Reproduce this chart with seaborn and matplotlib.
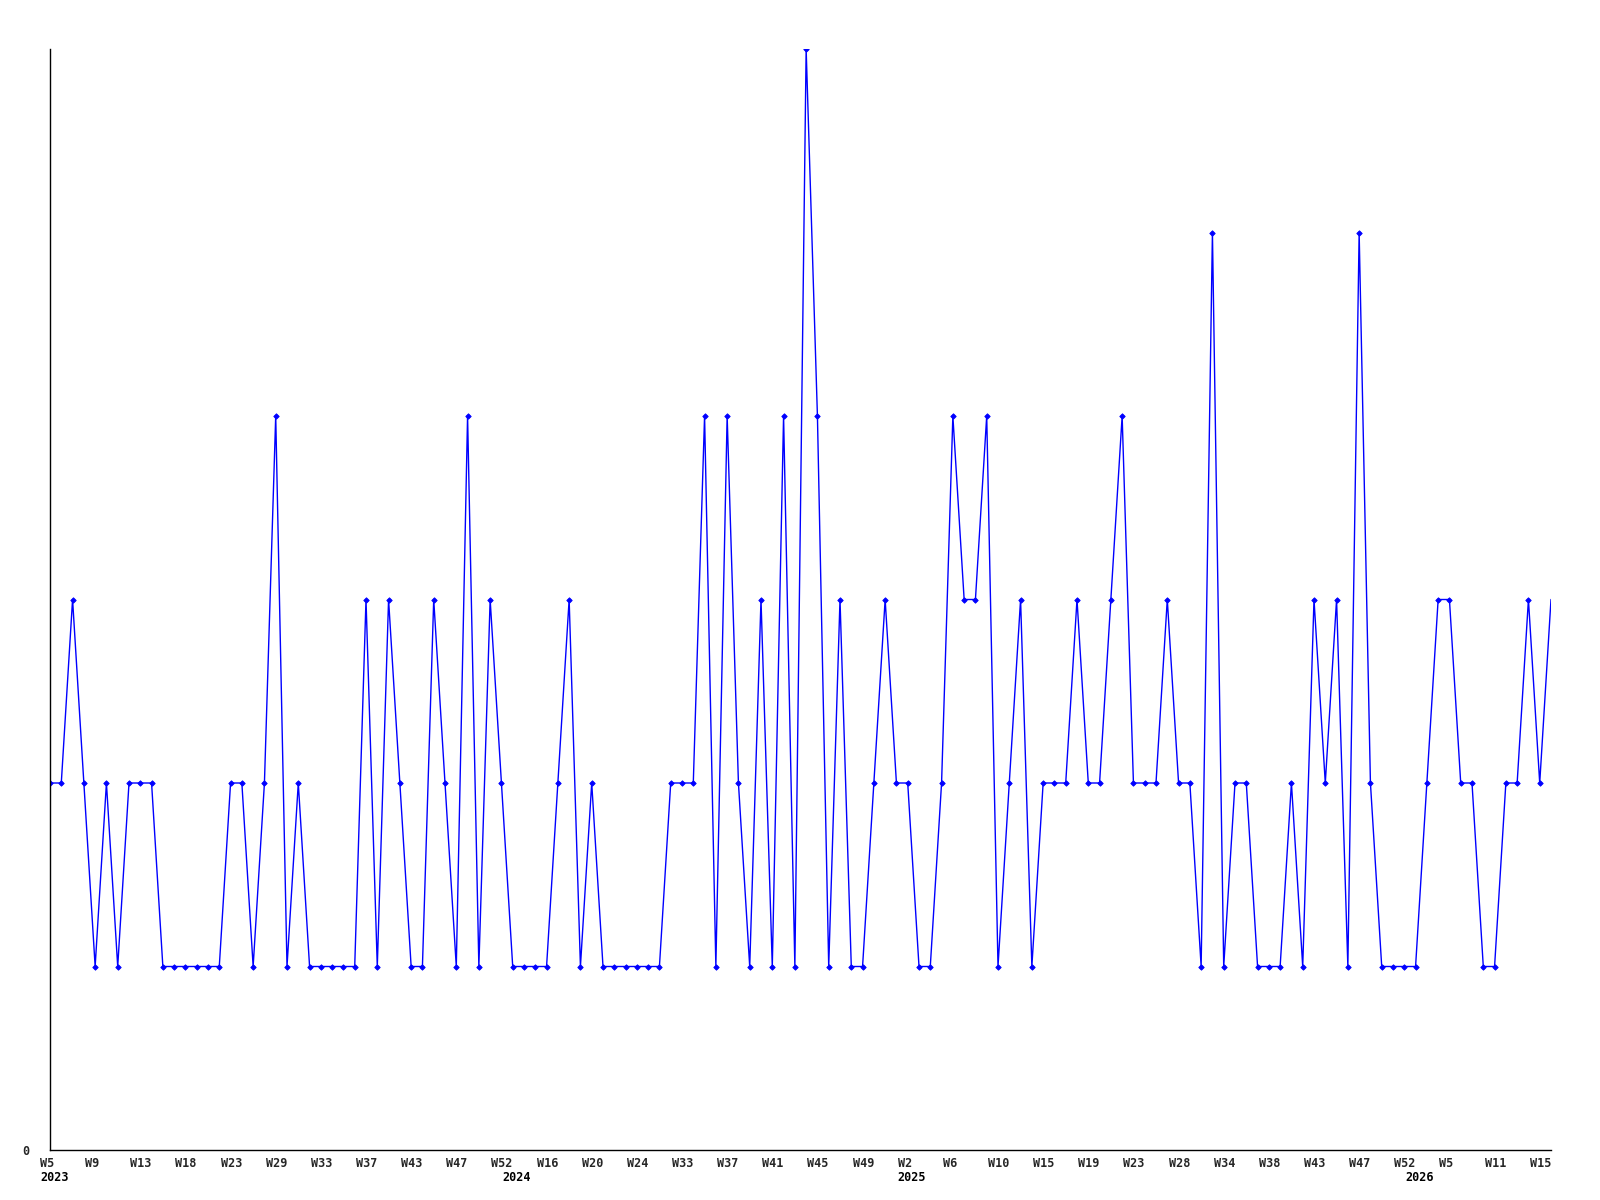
import matplotlib
matplotlib.use("Agg")
import matplotlib.pyplot as plt
import matplotlib.transforms as mtransforms
import numpy as np
import pandas as pd
import seaborn as sns

# ---- data ----
values = [
    2, 2, 3, 2, 1, 2, 1, 2, 2, 2, 1, 1, 1, 1, 1, 1, 2, 2, 1, 2, 4, 1, 2, 1, 1, 1, 1, 1,
    3, 1, 3, 2, 1, 1, 3, 2, 1, 4, 1, 3, 2, 1, 1, 1, 1, 2, 3, 1, 2, 1, 1, 1,
    1, 1, 1, 2, 2, 2, 4, 1, 4, 2, 1, 3, 1, 4, 1, 6, 4, 1, 3, 1, 1, 2, 3, 2, 2, 1,
    1, 2, 4, 3, 3, 4, 1, 2, 3, 1, 2, 2, 2, 3, 2, 2, 3, 4, 2, 2, 2, 3, 2, 2, 1, 5,
    1, 2, 2, 1, 1, 1, 2, 1, 3, 2, 3, 1, 5, 2, 1, 1, 1, 1, 2, 3, 3, 2, 2, 1, 1, 2, 2, 3, 2, 3,
]
week_labels = ["W5", "W9", "W13", "W18", "W23", "W29", "W33", "W37", "W43", "W47", "W52",
               "W16", "W20", "W24", "W33", "W37", "W41", "W45", "W49", "W2", "W6", "W10",
               "W15", "W19", "W23", "W28", "W34", "W38", "W43", "W47", "W52", "W5", "W11", "W15"]
label_step = 4
year_labels = ["2023", "2024", "2025", "2026"]
year_index = [0, 41, 76, 121]

df = pd.DataFrame({"idx": np.arange(len(values)), "value": values})

sns.set_style("white")
plt.rcParams["font.family"] = ["DejaVu Sans Mono", "DejaVu Sans"]

fig = plt.figure(figsize=(16, 12), dpi=100)
ax = fig.add_axes([50 / 1600, 50 / 1200, 1501 / 1600, 1101 / 1200])

n = len(values)
sns.lineplot(data=df, x="idx", y="value", ax=ax, color="#0000ff", linewidth=1.0,
             marker="D", markersize=2.8, markeredgewidth=0.6, markeredgecolor="#0000ff",
             markevery=list(range(n - 1)))

ax.set_xlim(0, n - 1)
ax.set_ylim(0, max(values))
ax.set_xlabel("")
ax.set_ylabel("")

for side in ["top", "right"]:
    ax.spines[side].set_visible(False)
for side in ["left", "bottom"]:
    ax.spines[side].set_color("black")
    ax.spines[side].set_linewidth(1.0)

ax.set_yticks([0])
ax.set_yticklabels(["0"], fontsize=8.5, fontweight="bold")
ax.tick_params(axis="y", length=0, pad=15)

ticks = list(range(0, n, label_step))[:len(week_labels)]
ax.set_xticks(ticks)
ax.set_xticklabels(week_labels, fontsize=8.5, fontweight="bold")
ax.tick_params(axis="x", length=0, pad=5)
shift = mtransforms.ScaledTranslation(-10 / 100, 0, fig.dpi_scale_trans)
for lab in ax.get_xticklabels():
    lab.set_horizontalalignment("left")
    lab.set_transform(lab.get_transform() + shift)

trans = mtransforms.blended_transform_factory(ax.transData, ax.transAxes) + \
    mtransforms.ScaledTranslation(-10 / 100, -21 / 100, fig.dpi_scale_trans)
for yl, yi in zip(year_labels, year_index):
    ax.text(yi, 0, yl, transform=trans, ha="left", va="top", fontsize=8.5,
            fontweight="bold", color="black")

fig.savefig("out.png", dpi=100, facecolor="white")
